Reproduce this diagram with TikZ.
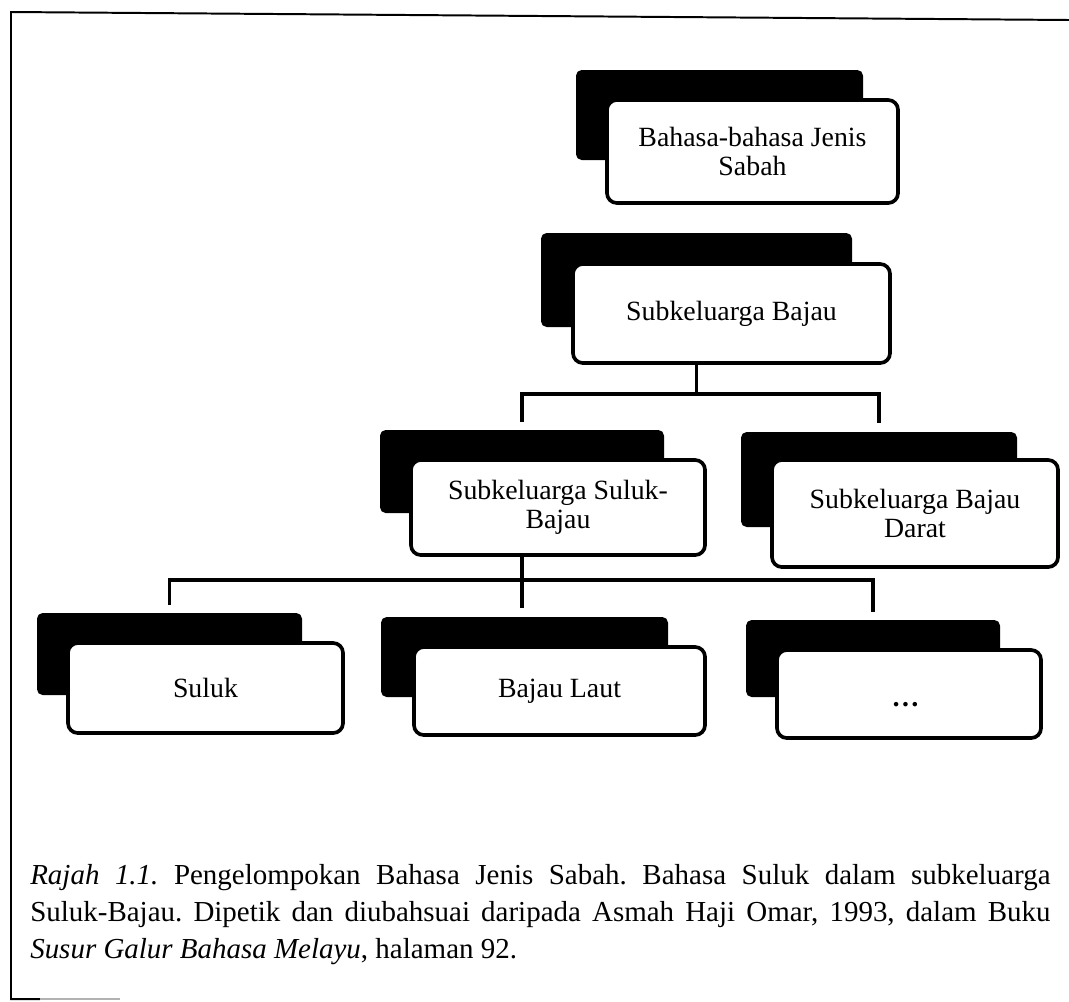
\documentclass[tikz,border=0pt]{standalone}
\usepackage{fontspec}
\setmainfont{Liberation Serif}
\usetikzlibrary{calc}

\begin{document}
\begin{tikzpicture}[x=0.025cm,y=-0.025cm,
    shadowbox/.style={fill=black, rounded corners=4pt, inner sep=0pt, outer sep=0pt},
    frontbox/.style={draw, fill=white, line width=2.6pt, rounded corners=7pt,
        inner sep=0pt, outer sep=0pt, align=center,
        font=\fontsize{19.8}{20.5}\selectfont},
    wire/.style={line width=2.4pt},
    frame/.style={line width=1.4pt},
    caption/.style={anchor=north west, inner sep=0pt, text width=25.5cm,
        align=justify, font=\fontsize{20.6}{26.5}\selectfont}]
    \useasboundingbox (0,0) rectangle (1069,1001);

    % Frame round the figure:
    \draw[frame] (40,999) -- (11,999) -- (11,12) -- (1069,20);
    \draw[frame, gray!60] (40,999) -- (120,999);

    % Boxes: the black one first, then the white one over it
    \foreach \name/\fx/\fy/\fw/\fh/\sx/\sy/\sw/\sh/\txt in {
        sabah/752.5/151.5/291/103/719.5/115/287/90/{Bahasa-bahasa Jenis\\Sabah},
        bajau/731.5/313.5/317/99/696.5/280/311/94/{Subkeluarga Bajau},
        sulukbajau/558/507.5/294/95/522/471.5/284/83/{Subkeluarga Suluk-\\Bajau},
        darat/915/513.5/286/107/879/479.5/276/95/{Subkeluarga Bajau\\Darat},
        suluk/205.5/688/275/90/169.5/654/265/82/{Suluk},
        laut/559.5/691/291/88/524.5/657/287/80/{Bajau Laut},
        dots/909/694/264/88/873/658.5/254/77/{\raisebox{-0.3cm}[0pt][0pt]{\textbf{\ldots}}}
    } {
        \node[shadowbox, minimum width=\sw*0.025cm, minimum height=\sh*0.025cm]
            (\name-s) at (\sx,\sy) {};
        \node[frontbox, minimum width=\fw*0.025cm, minimum height=\fh*0.025cm]
            (\name) at (\fx,\fy) {\txt};
    }

    % Connectors:
    % they leave from the middle of each black box and stop a little above it
    \coordinate (j-bajau) at ($(bajau-s.south |- bajau.south)+(0,31)$);
    \coordinate (t-sulukbajau) at ($(sulukbajau-s.north)+(0,-8)$);
    \coordinate (t-darat) at ($(darat-s.north)+(0,-9)$);
    \draw[wire] (bajau-s.south |- bajau.south) -- (j-bajau);
    \draw[wire] (t-sulukbajau) |- (j-bajau) -| (t-darat);

    \coordinate (j-sulukbajau) at ($(sulukbajau-s.south |- sulukbajau.south)+(0,25)$);
    \coordinate (t-suluk) at ($(suluk-s.north)+(0,-8)$);
    \coordinate (t-laut) at ($(laut-s.north)+(0,-9)$);
    \coordinate (t-dots) at ($(dots-s.north)+(0,-8)$);
    \draw[wire] (sulukbajau-s.south |- sulukbajau.south) -- (j-sulukbajau)
        -- (j-sulukbajau |- t-laut);
    \draw[wire] (t-suluk) |- (j-sulukbajau) -| (t-dots);

    % Caption:
    \node[caption] (cap) at (30,864) {\hyphenpenalty=10000 \frenchspacing
        \textit{Rajah 1.1.} Pengelompokan Bahasa Jenis Sabah. Bahasa Suluk dalam subkeluarga\linebreak
        Suluk-Bajau. Dipetik dan diubahsuai daripada Asmah Haji Omar, 1993, dalam Buku\linebreak
        \textit{Susur Galur Bahasa Melayu}, halaman 92.\par};
\end{tikzpicture}
\end{document}
